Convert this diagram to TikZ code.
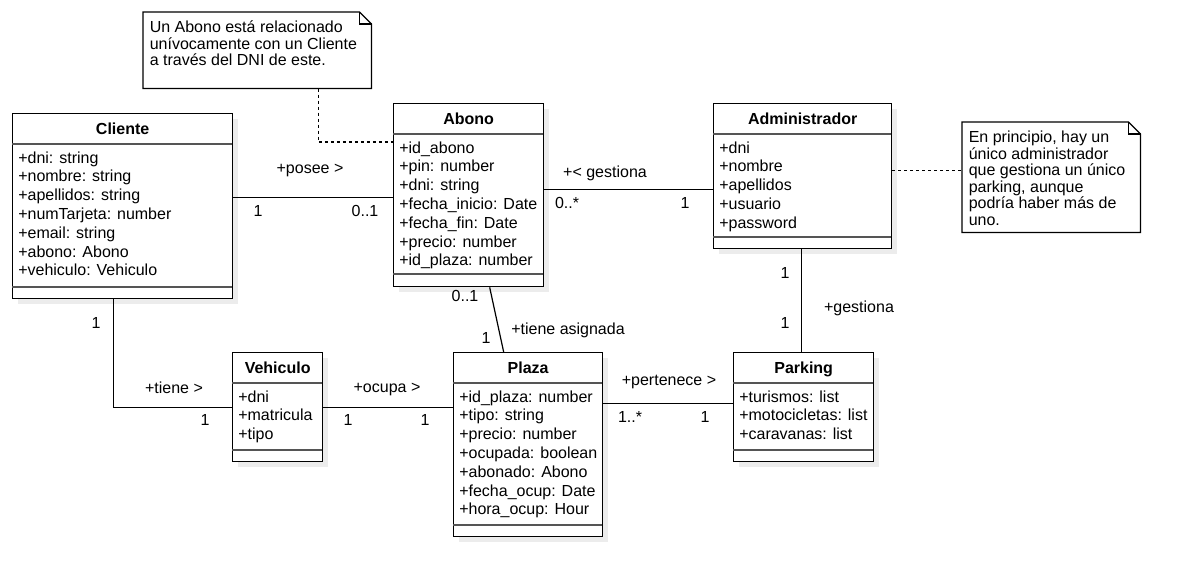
\documentclass[tikz,border=0pt]{standalone}
\usepackage{fontspec}
\setmainfont{Liberation Sans}
\usetikzlibrary{calc}
\definecolor{cShade}{HTML}{ECECEC}
\definecolor{cRule}{HTML}{555555}

% class box: name, x, y, width, height, separator, title, attributes
\newcommand{\umlclass}[8]{%
  \fill[cShade] (#2+6,#3+6) rectangle ++(#4,#5);
  \node[cls,minimum width=#4*0.75pt,minimum height=#5*0.75pt] (#1) at (#2,#3) {};
  \node[ctitle] (#1-t) at ($(#1.north)+(0,15.5)$) {#7};
  \draw[rule] ($(#1.north west)+(0,31)$) -- ++(#4,0);
  \node[cattr] (#1-a) at ($(#1.north west)+(6,38.3)$) {#8};
  \draw[rule] ($(#1.north west)+(0,#6)$) -- ++(#4,0);
}
% note with folded corner: name, x, y, width, height, text
\newcommand{\umlnote}[6]{%
  \node[notebox,minimum width=#4*0.75pt,minimum height=#5*0.75pt] (#1) at (#2,#3) {};
  \draw[edge] (#1.north west) -- ($(#1.north east)+(-12,0)$) -- ($(#1.north east)+(0,12)$)
    -- (#1.south east) -- (#1.south west) -- cycle;
  \draw[edge] ($(#1.north east)+(-12,0)$) |- ($(#1.north east)+(0,12)$);
  \node[ntext] (#1-x) at ($(#1.north west)+(6.5,8.7)$) {#6};
}

\begin{document}
\begin{tikzpicture}[
  x=0.75pt,y=-0.75pt,
  font=\fontsize{12pt}{14.1pt}\selectfont,
  cls/.style={draw,fill=white,anchor=north west,inner sep=0,line width=1pt},
  ctitle/.style={font=\fontsize{12pt}{14.1pt}\selectfont\bfseries,inner sep=0,
                 text height=8.6pt,text depth=0pt},
  cattr/.style={anchor=north west,align=left,inner sep=0},
  rule/.style={cRule,line width=1.4pt},
  edge/.style={line width=1pt},
  notebox/.style={fill=white,anchor=north west,inner sep=0},
  ntext/.style={anchor=north west,align=left,inner sep=0,
                font=\fontsize{12pt}{12.4pt}\selectfont},
  assoc/.style={line width=0.9pt},
  trace/.style={line width=0.9pt,dash pattern=on 2.25pt off 2.25pt},
  lbl/.style={inner sep=0,text height=8.6pt,text depth=0pt}
]
\useasboundingbox[fill=white] (0,0) rectangle (1191,586);

\umlclass{cliente}{12}{113}{220}{185}{174}{Cliente}{+dni: string\\+nombre: string\\+apellidos: string\\+numTarjeta: number\\+email: string\\+abono: Abono\\+vehiculo: Vehiculo}
\umlclass{abono}{393}{103}{150}{183}{171}{Abono}{+id\_abono\\+pin: number\\+dni: string\\+fecha\_inicio: Date\\+fecha\_fin: Date\\+precio: number\\+id\_plaza: number}
\umlclass{admin}{713}{103}{178}{145}{134}{Administrador}{+dni\\+nombre\\+apellidos\\+usuario\\+password}
\umlclass{vehiculo}{232}{352}{90}{109}{98}{Vehiculo}{+dni\\+matricula\\+tipo}
\umlclass{plaza}{453}{352}{149}{184}{173}{Plaza}{+id\_plaza: number\\+tipo: string\\+precio: number\\+ocupada: boolean\\+abonado: Abono\\+fecha\_ocup: Date\\+hora\_ocup: Hour}
\umlclass{parking}{733}{352}{140}{109}{98}{Parking}{+turismos: list\\+motocicletas: list\\+caravanas: list}

\umlnote{note1}{143}{12}{228}{76}{Un Abono está relacionado\\unívocamente con un Cliente\\a través del DNI de este.}
\umlnote{note2}{962}{122}{178}{110}{En principio, hay un\\único administrador\\que gestiona un único\\parking, aunque\\podría haber más de\\uno.}

% associations
\draw[assoc] ($(abono.west)+(0,2.5)$) coordinate (pA) -- (pA -| cliente.east);
\draw[assoc] ($(admin.west)+(0,13.5)$) coordinate (pG) -- (pG -| abono.east);
\draw[assoc] ($(admin.south)+(-1,0)$) coordinate (pM) -- (pM |- parking.north);
\draw[assoc] ($(cliente.south)+(-9,0)$) |- (vehiculo.west);
\draw[assoc] (vehiculo.east) -- (vehiculo.east -| plaza.west);
\draw[assoc] ($(parking.west)+(0,-3.5)$) coordinate (pP) -- (pP -| plaza.east);
\draw[assoc] ($(abono.south)+(21,0)$) -- ($(plaza.north)+(-24.5,0)$);

% note links
\draw[trace] ($(note1.south)+(61,0)$) |- ($(abono.north west)+(0,39)$);
\draw[trace] ($(admin.east)+(0,-5.5)$) coordinate (pN) -- (pN -| note2.west);

% role names and multiplicities
\node[lbl] (posee) at (310,168) {+posee >};
\node[lbl] (m1) at (258,211) {1};
\node[lbl] (m2) at (365,211) {0..1};
\node[lbl] (gest1) at (605,172) {+< gestiona};
\node[lbl] (m3) at (567,203) {0..*};
\node[lbl] (m4) at (685,203) {1};
\node[lbl] (m5) at (785,273) {1};
\node[lbl] (m6) at (785,323) {1};
\node[lbl] (gest2) at (859,307) {+gestiona};
\node[lbl] (m7) at (96,323) {1};
\node[lbl] (tiene) at (174,388) {+tiene >};
\node[lbl] (m8) at (205,420) {1};
\node[lbl] (ocupa) at (387,387) {+ocupa >};
\node[lbl] (m9) at (348,420) {1};
\node[lbl] (m10) at (425,420) {1};
\node[lbl] (pert) at (669,380) {+pertenece >};
\node[lbl] (m11) at (630,417) {1..*};
\node[lbl] (m12) at (705,417) {1};
\node[lbl] (m13) at (465,296) {0..1};
\node[lbl] (m14) at (486,338) {1};
\node[lbl] (asig) at (568,329) {+tiene asignada};
\end{tikzpicture}
\end{document}
